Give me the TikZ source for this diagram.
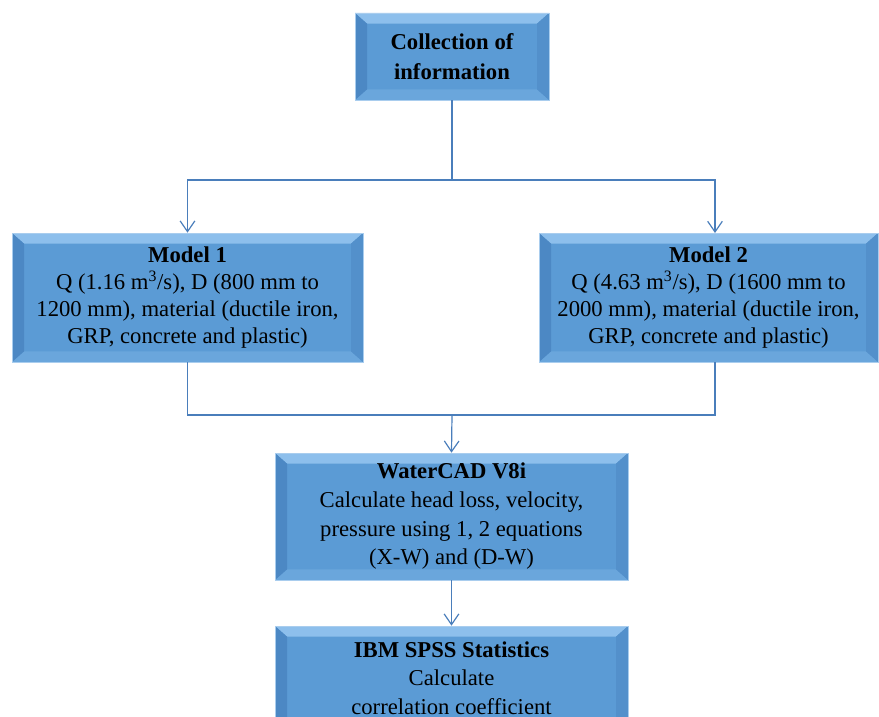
\documentclass[tikz,border=0pt]{standalone}
\usepackage{fontspec}
\setmainfont{Liberation Serif}
\usetikzlibrary{arrows.meta,calc}
\definecolor{face}{HTML}{5B9BD5}
\definecolor{bvtop}{HTML}{8DBFEC}
\definecolor{bvleft}{HTML}{4C88C4}
\definecolor{bvright}{HTML}{5390CB}
\definecolor{bvbot}{HTML}{6AA6DC}
\definecolor{edge}{HTML}{A9CDEE}
\definecolor{wire}{HTML}{4A7EBB}
\tikzset{
  bevelbox/.style={fill=face, draw=edge, line width=0.5pt, inner sep=0pt, align=center, text=black,
    path picture={
      \fill[bvtop] (path picture bounding box.north west) -- (path picture bounding box.north east)
        -- ($(path picture bounding box.north east)+(-9pt,-8pt)$) -- ($(path picture bounding box.north west)+(9pt,-8pt)$) -- cycle;
      \fill[bvbot] (path picture bounding box.south west) -- (path picture bounding box.south east)
        -- ($(path picture bounding box.south east)+(-9pt,8pt)$) -- ($(path picture bounding box.south west)+(9pt,8pt)$) -- cycle;
      \fill[bvleft] (path picture bounding box.north west) -- (path picture bounding box.south west)
        -- ($(path picture bounding box.south west)+(9pt,8pt)$) -- ($(path picture bounding box.north west)+(9pt,-8pt)$) -- cycle;
      \fill[bvright] (path picture bounding box.north east) -- (path picture bounding box.south east)
        -- ($(path picture bounding box.south east)+(-9pt,8pt)$) -- ($(path picture bounding box.north east)+(-9pt,-8pt)$) -- cycle;
    }},
  wireline/.style={draw=wire, line width=0.9pt},
  arr/.style={wireline, -{Straight Barb[length=8pt,width=11pt]}},
}
\begin{document}
\begin{tikzpicture}[x=0.75pt,y=-0.75pt]
\path[use as bounding box, clip] (0,0) rectangle (879,717);
\node[bevelbox, minimum width=145.5pt, minimum height=65.25pt, font=\fontsize{17}{22.5}\selectfont\bfseries]
  (top) at (452,56.5) {Collection of\\information};
\node[bevelbox, minimum width=263.25pt, minimum height=96.75pt, font=\fontsize{17}{20.25}\selectfont]
  (m1) at (187.5,297.5) {\textbf{Model 1}\\Q (1.16 m\textsuperscript{3}/s), D (800 mm to\\1200 mm), material (ductile iron,\\GRP, concrete and plastic)};
\node[bevelbox, minimum width=254.25pt, minimum height=96.75pt, font=\fontsize{17}{20.25}\selectfont]
  (m2) at (708.5,297.5) {\textbf{Model 2}\\Q (4.63 m\textsuperscript{3}/s), D (1600 mm to\\2000 mm), material (ductile iron,\\GRP, concrete and plastic)};
\node[bevelbox, minimum width=264.75pt, minimum height=95.25pt, font=\fontsize{17}{21.5}\selectfont]
  (wc) at (451.5,516.5) {\textbf{WaterCAD V8i}\\Calculate head loss, velocity,\\pressure using 1, 2 equations\\(X-W) and (D-W)};
\node[bevelbox, minimum width=264.75pt, minimum height=78pt, font=\fontsize{17}{21.4}\selectfont]
  (sp) at (451.5,678) {\textbf{IBM SPSS Statistics}\\Calculate\\correlation coefficient};
\coordinate (split) at (452,180);
\coordinate (m2in) at (715,233);
\coordinate (m2out) at (715,362);
\coordinate (join) at (452,415);
\draw[wireline] (top.south) -- (split);
\draw[arr] (split) -| (m1.north);
\draw[arr] (split) -| (m2in);
\draw[wireline] (m1.south) |- (join);
\draw[wireline] (m2out) |- (join);
\draw[arr] (join) -- (wc.north);
\draw[arr] (wc.south) -- (sp.north);
\end{tikzpicture}
\end{document}
